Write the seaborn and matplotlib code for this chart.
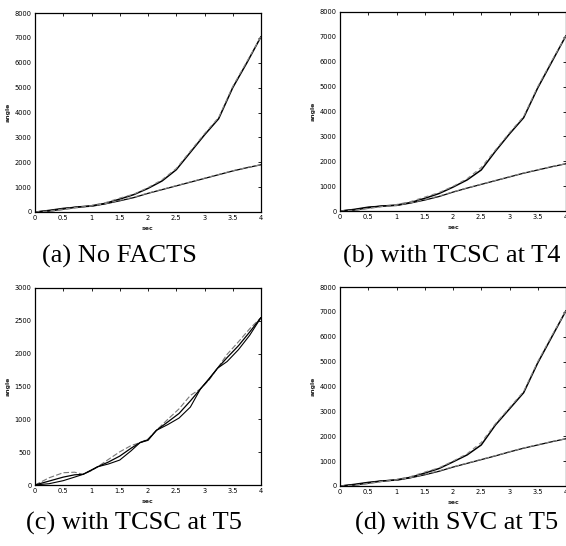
import numpy as np
import pandas as pd
import matplotlib
matplotlib.use("Agg")
import matplotlib.pyplot as plt
import seaborn as sns

# ---------------- data ----------------
t = [0, 0.25, 0.5, 0.75, 1.0, 1.25, 1.5, 1.75, 2.0, 2.25, 2.5, 2.75, 3.0, 3.25, 3.5, 3.75, 4.0]

# (a) No FACTS
a_fast = [0, 40, 120, 200, 250, 350, 520, 700, 950, 1250, 1700, 2400, 3100, 3750, 5000, 6000, 7050]
a_fast_est = [0, 20, 90, 170, 260, 380, 560, 720, 980, 1300, 1750, 2450, 3150, 3800, 5050, 6050, 7050]
a_slow = [0, 70, 150, 200, 230, 330, 450, 580, 750, 900, 1050, 1200, 1350, 1500, 1650, 1780, 1900]
a_slow_est = [0, 40, 120, 190, 240, 340, 470, 600, 760, 910, 1060, 1210, 1360, 1510, 1660, 1790, 1900]

# (b) with TCSC at T4
b_fast = [0, 40, 130, 200, 240, 340, 510, 700, 960, 1250, 1650, 2400, 3100, 3750, 4950, 6000, 7050]
b_fast_est = [0, 20, 100, 180, 260, 380, 560, 740, 990, 1300, 1750, 2450, 3150, 3800, 5000, 6050, 7050]
b_slow = [0, 70, 160, 200, 220, 320, 440, 580, 760, 920, 1070, 1220, 1370, 1520, 1650, 1780, 1900]
b_slow_est = [0, 30, 110, 180, 230, 330, 460, 600, 770, 930, 1080, 1230, 1380, 1530, 1660, 1790, 1900]

# (c) with TCSC at T5
t_c = [0, 0.25, 0.5, 0.7, 0.85, 1.0, 1.11, 1.3, 1.5, 1.7, 1.86, 2.0, 2.15, 2.35, 2.55,
       2.75, 2.93, 3.08, 3.23, 3.4, 3.6, 3.8, 4.0]
c_upper = [0, 110, 187, 195, 162, 220, 278, 390, 505, 600, 646, 700, 833, 1000, 1160,
           1364, 1465, 1600, 1778, 1990, 2180, 2380, 2550]
c_lower = [0, 20, 66, 120, 162, 230, 278, 320, 380, 520, 646, 680, 833, 920, 1020,
           1187, 1465, 1620, 1778, 1880, 2060, 2280, 2550]
c_mid = [0, 60, 120, 155, 162, 225, 278, 350, 440, 560, 646, 690, 833, 960, 1090,
         1280, 1465, 1610, 1778, 1940, 2120, 2330, 2550]

# (d) with SVC at T5
d_fast = [0, 40, 120, 200, 250, 350, 520, 700, 970, 1250, 1650, 2450, 3100, 3750, 4950, 6000, 7050]
d_fast_est = [0, 20, 90, 180, 260, 380, 560, 730, 1000, 1300, 1750, 2500, 3150, 3800, 5000, 6050, 7050]
d_slow = [0, 70, 150, 210, 230, 330, 450, 590, 760, 910, 1060, 1210, 1370, 1520, 1650, 1780, 1900]
d_slow_est = [0, 30, 110, 190, 240, 340, 470, 610, 770, 920, 1070, 1220, 1380, 1530, 1660, 1790, 1900]

captions = ["(a) No FACTS", "(b) with TCSC at T4", "(c) with TCSC at T5", "(d) with SVC at T5"]
x_ticks = [0, 0.5, 1, 1.5, 2, 2.5, 3, 3.5, 4]
x_tick_labels = ["0", "0.5", "1", "1.5", "2", "2.5", "3", "3.5", "4"]
y_ticks_big = [0, 1000, 2000, 3000, 4000, 5000, 6000, 7000, 8000]
y_ticks_c = [0, 500, 1000, 1500, 2000, 2500, 3000]

# ---------------- figure ----------------
sns.set_style("white")
W, H = 566, 546
fig = plt.figure(figsize=(W / 100, H / 100), dpi=100)


def box(l, t_, r, b):
    return [l / W, 1 - b / H, (r - l) / W, (b - t_) / H]


axes_px = [(35, 13, 261, 212), (340, 12, 566, 211), (35, 288, 261, 485), (340, 287, 566, 486)]
cap_px = [(119, 256), (452, 256), (134, 523), (457, 523)]


def style(ax, yticks, ymax):
    ax.set_xlim(0, 4)
    ax.set_ylim(0, ymax)
    ax.set_xticks(x_ticks)
    ax.set_xticklabels(x_tick_labels)
    ax.set_yticks(yticks)
    ax.set_yticklabels([str(v) for v in yticks])
    ax.tick_params(direction="in", length=2.5, width=0.6, labelsize=4.8, pad=2.5,
                   top=True, right=True, colors="black")
    for s in ax.spines.values():
        s.set_linewidth(0.9)
        s.set_color("black")
    ax.set_xlabel("sec", fontsize=4.5, labelpad=3.5, fontweight="bold")
    ax.set_ylabel("angle", fontsize=4.5, labelpad=3, fontweight="bold")


def plot_pair(ax, fast, fast_est, slow, slow_est):
    df = pd.DataFrame({"t": t, "fast": fast, "fast_est": fast_est, "slow": slow, "slow_est": slow_est})
    sns.lineplot(data=df, x="t", y="fast", ax=ax, color="black", linewidth=1.1)
    sns.lineplot(data=df, x="t", y="fast_est", ax=ax, color="#888888", linewidth=0.8, linestyle=(0, (4, 3)))
    sns.lineplot(data=df, x="t", y="slow", ax=ax, color="black", linewidth=0.9)
    sns.lineplot(data=df, x="t", y="slow_est", ax=ax, color="#888888", linewidth=0.8, linestyle=(0, (4, 3)))


sets = [(a_fast, a_fast_est, a_slow, a_slow_est),
        (b_fast, b_fast_est, b_slow, b_slow_est),
        None,
        (d_fast, d_fast_est, d_slow, d_slow_est)]

for i in range(4):
    ax = fig.add_axes(box(*axes_px[i]))
    if i == 2:
        dfc = pd.DataFrame({"t": t_c, "upper": c_upper, "lower": c_lower, "mid": c_mid})
        sns.lineplot(data=dfc, x="t", y="upper", ax=ax, color="#777777", linewidth=0.8,
                     linestyle=(0, (5, 2)))
        sns.lineplot(data=dfc, x="t", y="mid", ax=ax, color="black", linewidth=0.9)
        sns.lineplot(data=dfc, x="t", y="lower", ax=ax, color="black", linewidth=0.8)
        style(ax, y_ticks_c, 3000)
    else:
        plot_pair(ax, *sets[i])
        style(ax, y_ticks_big, 8000)
    fig.text(cap_px[i][0] / W, 1 - cap_px[i][1] / H, captions[i], ha="center", va="center",
             fontsize=19, family="Liberation Serif", color="black")

fig.savefig("out.png", dpi=100)
